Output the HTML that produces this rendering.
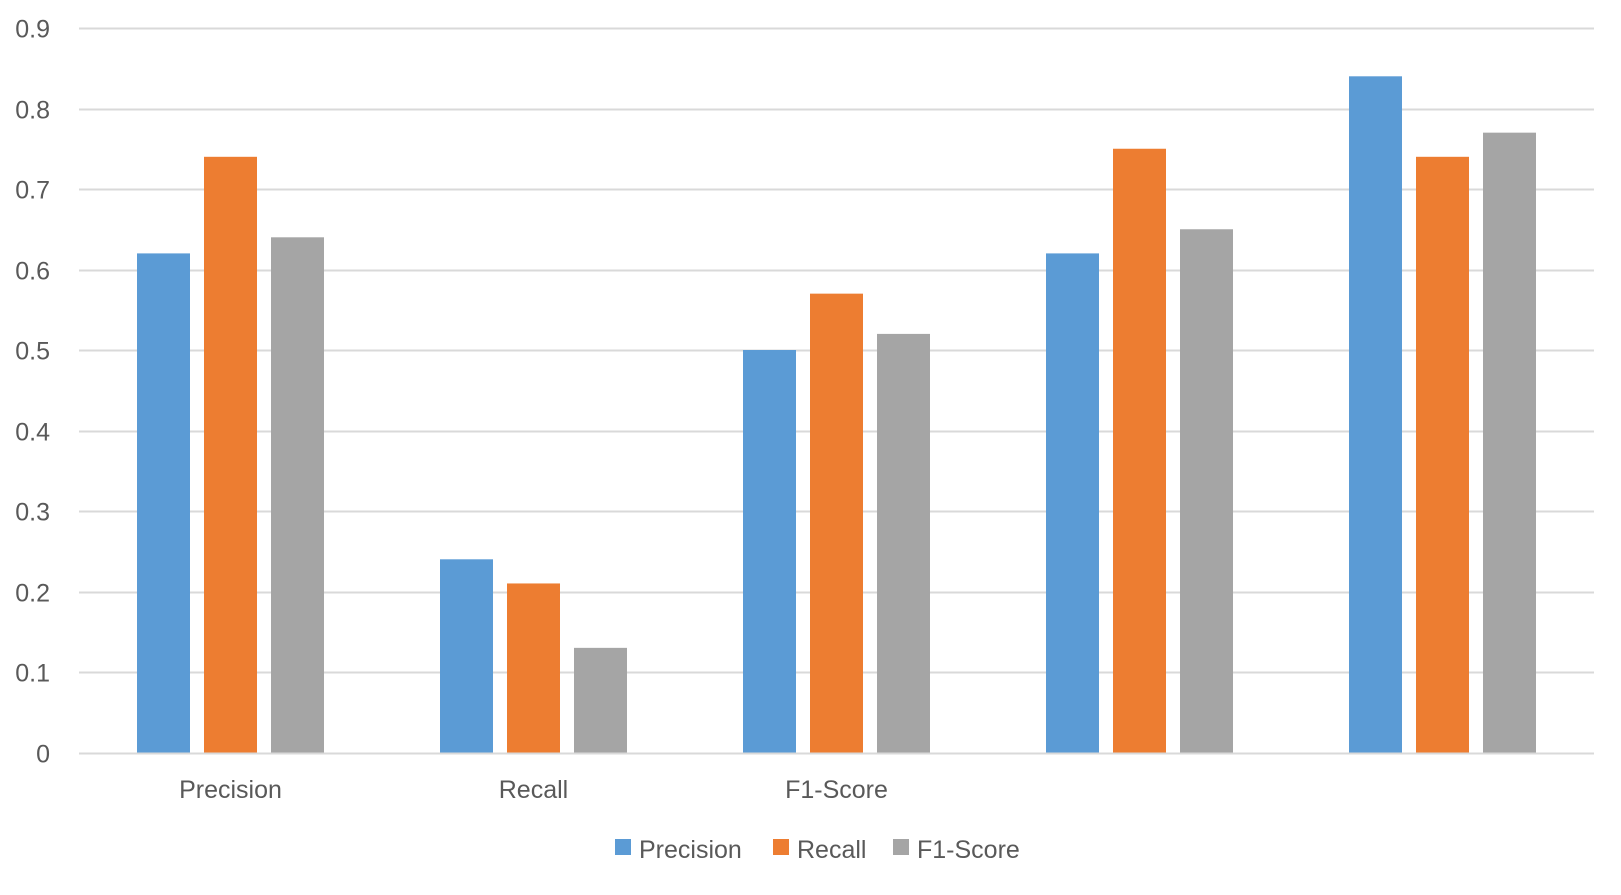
<!DOCTYPE html>
<html><head><meta charset="utf-8"><style>
html,body{margin:0;padding:0;background:#fff;}
svg text{font-family:"Liberation Sans",sans-serif;fill:#595959;}
</style></head><body>
<svg id="chart" width="1621" height="890" xmlns="http://www.w3.org/2000/svg">
<g id="grid"></g>
<g id="yaxis"></g>
<g id="bars"></g>
<g id="xaxis"></g>
<g id="legend"></g>
</svg>
<script>
const categories = ["Precision","Recall","F1-Score","",""];
const seriesNames = ["Precision","Recall","F1-Score"];
const precisionValues = [0.62,0.24,0.50,0.62,0.84];
const recallValues = [0.74,0.21,0.57,0.75,0.74];
const f1Values = [0.64,0.13,0.52,0.65,0.77];
const yTicks = [0,0.1,0.2,0.3,0.4,0.5,0.6,0.7,0.8,0.9];
const yTickLabels = ["0","0.1","0.2","0.3","0.4","0.5","0.6","0.7","0.8","0.9"];

const colors = ["#5b9bd5","#ed7d31","#a5a5a5"];
const series = [precisionValues, recallValues, f1Values];
const NS = "http://www.w3.org/2000/svg";
const plotL = 79, plotR = 1594, y0 = 752.5, yTop = 28;
const yMax = 0.9;
function yScale(v){ return y0 - (v / yMax) * (y0 - yTop); }
const groupW = (plotR - plotL) / categories.length;
function groupCenter(i){ return plotL + groupW * (i + 0.5); }
const barW = 53, barStep = 67;
function mk(tag, attrs, parent){
  const e = document.createElementNS(NS, tag);
  for (const k in attrs) e.setAttribute(k, attrs[k]);
  parent.appendChild(e); return e;
}
const grid = document.getElementById('grid');
const yaxis = document.getElementById('yaxis');
yTicks.forEach((t, i) => {
  const y = Math.round(yScale(t)) + 0.5;
  const l = mk('line', {x1: plotL, x2: plotR, y1: y, y2: y, stroke: '#d9d9d9', 'stroke-width': 2}, grid);
  
  
  const tx = mk('text', {x: 50, y: y + 9, 'text-anchor': 'end', 'font-size': 25}, yaxis);
  tx.textContent = yTickLabels[i];
  
  
});
const bars = document.getElementById('bars');
categories.forEach((c, i) => {
  series.forEach((s, j) => {
    const cx = groupCenter(i) + (j - 1) * barStep;
    const yv = yScale(s[i]);
    const r = mk('rect', {x: cx - barW / 2, y: yv, width: barW, height: y0 - yv, fill: colors[j]}, bars);
    
    
  });
});
const xaxis = document.getElementById('xaxis');
categories.forEach((c, i) => {
  if (!c) return;
  const t = mk('text', {x: groupCenter(i), y: 798, 'text-anchor': 'middle', 'font-size': 25}, xaxis);
  t.textContent = c;
  
  
});
const legend = document.getElementById('legend');
const legX = [615, 773, 893];
seriesNames.forEach((n, j) => {
  const sq = mk('rect', {x: legX[j], y: 839, width: 16, height: 16, fill: colors[j]}, legend);
  
  
  const t = mk('text', {x: legX[j] + 24, y: 858, 'font-size': 25}, legend);
  t.textContent = n;
  
  
});
</script>
</body></html>
